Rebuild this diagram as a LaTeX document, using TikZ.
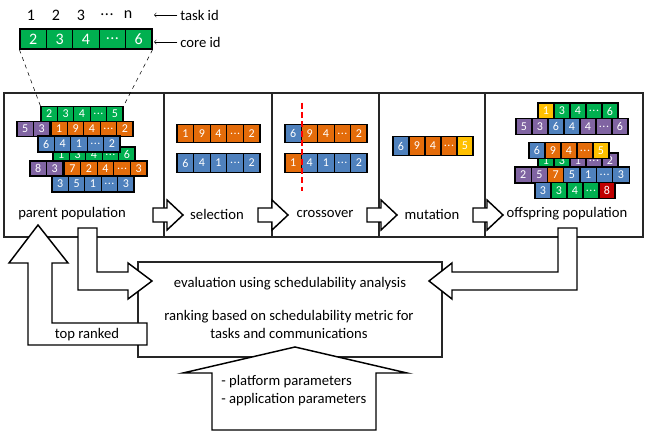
\documentclass[tikz,border=0pt]{standalone}
\usepackage{fontspec}
\setmainfont{Carlito}

\definecolor{gn}{HTML}{00B050}
\definecolor{og}{HTML}{E46C0A}
\definecolor{bl}{HTML}{4F81BD}
\definecolor{pu}{HTML}{8064A2}
\definecolor{ye}{HTML}{FFC000}
\definecolor{rd}{HTML}{C00000}

\newcommand{\gdots}{.\kern0.4pt.\kern0.4pt.}
% one row of genes: [extra style]{name}{left x}{centre y}{cell width}{cell height}{colour/label list}
\newcommand{\generow}[7][]{%
  \foreach \gc/\gl [count=\gi] in {#7}
    \node[gene,fill=\gc,minimum width=#5*0.75pt,minimum height=#6*0.75pt,#1]
      (#2\gi) at ({#3+(\gi-0.5)*#5},#4) {\gl};}

\begin{document}
\begin{tikzpicture}
	[x=0.75pt,y=-0.75pt,
	gene/.style={rectangle,draw=black,line width=0.9pt,inner sep=0pt,text=white,font=\fontsize{9}{9}\selectfont},
	plain/.style={draw=none,fill=none,inner sep=0pt,font=\fontsize{11}{13.5}\selectfont},
	frame/.style={draw=black!85,line width=1.2pt},
	fat/.style={draw=black,fill=white,line width=1.1pt},
	cut/.style={draw=red,line width=1.6pt,dash pattern=on 4.5pt off 2.5pt}
	]
	\useasboundingbox (0,0) rectangle (646,434);

	% stages
	\draw[frame] (4,93) rectangle (643,237);
	\foreach \x in {164,272,379,485} \draw[frame] (\x,93) -- (\x,237);

	\node[frame,fill=white,minimum width=304*0.75pt,minimum height=95*0.75pt] (eval) at (290,309.5) {};

	% encoding
	\generow[font=\fontsize{12}{12}\selectfont]{core}{20}{39}{26.4}{20}{gn/2,gn/3,gn/4,gn/\gdots,gn/6}
	\foreach \x/\l [count=\i] in {31/1,56/2,81/3,107/\gdots,128/n}
		\node[plain,font=\fontsize{12}{12}\selectfont] (tid\i) at (\x,15) {\l};
	\node[plain,anchor=west] (tasklbl) at (180,15) {task id};
	\node[plain,anchor=west] (corelbl) at (180,42) {core id};
	\coordinate (taskend) at (154,15);
	\coordinate (coreend) at (154,42);
	\draw[->,shorten <=2pt] (tasklbl.west) -- (taskend);
	\draw[->,shorten <=2pt] (corelbl.west) -- (coreend);

	% parent population
	\generow{parD}{53}{154.5}{16.4}{15}{gn/1,gn/3,gn/4,gn/\gdots,gn/6}
	\generow{parA}{41}{114}{16.4}{15}{gn/2,gn/3,gn/4,gn/\gdots,gn/5}
	\generow{parBp}{17}{129}{16.5}{15}{pu/5,pu/3}
	\generow{parBo}{51}{129}{16.4}{15}{og/1,og/9,og/4,og/\gdots,og/2}
	\generow{parC}{38}{144}{16.4}{16}{bl/6,bl/4,bl/1,bl/\gdots,bl/2}
	\generow{parEp}{30}{168.5}{16.5}{15}{pu/8,pu/3}
	\generow{parEo}{64}{168.5}{16.6}{15}{og/7,og/2,og/4,og/\gdots,og/3}
	\generow{parF}{52}{184}{16.4}{16}{bl/3,bl/5,bl/1,bl/\gdots,bl/3}
	\draw[dashed] (core1.south west) -- (parA1.north west);
	\draw[dashed] (core5.south east) -- (parA5.north east);

	% selection
	\generow{selA}{177}{133.5}{16.6}{18.5}{og/1,og/9,og/4,og/\gdots,og/2}
	\generow{selB}{177}{163}{16.6}{18.5}{bl/6,bl/4,bl/1,bl/\gdots,bl/2}

	% crossover
	\generow{crA}{285}{133.5}{16.4}{18.5}{bl/6,og/9,og/4,og/\gdots,og/2}
	\generow{crB}{285}{163}{16.4}{18.5}{og/1,bl/4,bl/1,bl/\gdots,bl/2}
	\draw[cut] ([yshift=15.75pt]crA1.north east) -- ([yshift=-13.5pt]crB1.south east);

	% mutation
	\generow{mutA}{393}{146}{16}{18.5}{bl/6,og/9,og/4,og/\gdots,ye/5}

	% offspring population
	\generow{offD}{538}{161}{16}{16}{gn/1,gn/3,pu/1,pu/\gdots,pu/2}
	\generow{offA}{538}{111}{16}{16}{ye/1,gn/3,gn/4,gn/\gdots,gn/6}
	\generow{offBp}{516}{126.5}{16}{16}{pu/5,pu/3}
	\generow{offBb}{548}{126.5}{16}{16}{bl/6,bl/4}
	\generow{offBq}{580}{126.5}{16}{16}{pu/4,pu/\gdots,pu/6}
	\generow{offC}{529}{150.5}{16}{16}{bl/6,og/9,og/4,og/\gdots,ye/5}
	\generow{offEp}{515}{175}{16.3}{16}{pu/2,pu/5}
	\generow{offEo}{547.6}{175}{16}{16}{og/7}
	\generow{offEb}{563.6}{175}{16.4}{16}{bl/5,bl/1,bl/\gdots,bl/3}
	\generow{offF}{535}{190.5}{16}{16}{bl/3,gn/3,gn/4,gn/\gdots,rd/8}

	% arrows between stages
	\foreach \x in {153,258,367,473}
		\draw[fat] (\x,208) -- (\x+14,208) -- (\x+14,200) -- (\x+30,215) -- (\x+14,230) -- (\x+14,222) -- (\x,222) -- cycle;

	\node[plain] (parlbl) at (72,214) {parent population};
	\node[plain] (sellbl) at (217,214) {selection};
	\node[plain] (crlbl) at (325,214) {crossover};
	\node[plain] (mutlbl) at (432,214) {mutation};
	\node[plain] (offlbl) at (567,214) {offspring population};

	% loop back through the evaluation
	\draw[fat] (38,225) -- (68,263) -- (52,263) -- (52,323) -- (147,323) -- (147,345) -- (28,345) -- (28,263) -- (9,263) -- cycle;
	\draw[fat] (78,228) -- (97,228) -- (97,272) -- (128,272) -- (128,263) -- (152,281) -- (128,299) -- (128,290) -- (78,290) -- cycle;
	\draw[fat] (577,228) -- (558,228) -- (558,272) -- (452,272) -- (452,263) -- (429,281) -- (452,299) -- (452,290) -- (577,290) -- cycle;
	\draw[fat] (295,347) -- (407,373) -- (376,373) -- (376,430) -- (212,430) -- (212,373) -- (183,373) -- cycle;

	\node[plain] (toplbl) at (87,335) {top ranked};
	\node[plain] (evallbl) at (290,284) {evaluation using schedulability analysis};
	\node[plain,align=center] (ranklbl) at (289,324) {ranking based on schedulability metric for\\tasks and communications};
	\node[plain,align=left,anchor=west] (params) at (221,391) {- platform parameters\\- application parameters};
\end{tikzpicture}
\end{document}
